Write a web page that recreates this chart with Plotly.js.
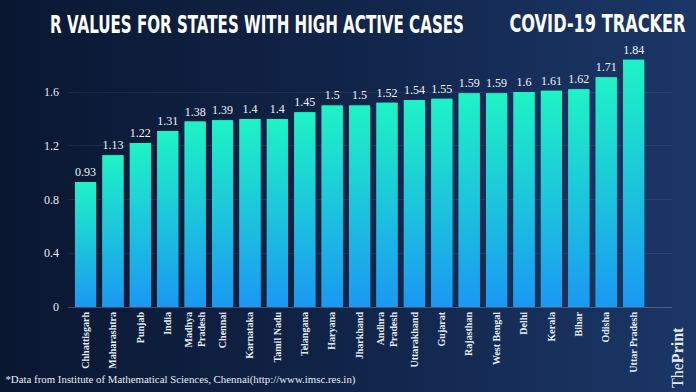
<!DOCTYPE html>
<html>
<head>
<meta charset="utf-8">
<script src="https://cdn.plot.ly/plotly-3.0.1.min.js"></script>
<style>
html,body{margin:0;padding:0;}
body{width:696px;height:392px;overflow:hidden;background:linear-gradient(to right,#0a1731 0%,#112449 50%,#1b3767 100%);}
#chart{width:696px;height:392px;}
</style>
</head>
<body>
<div id="chart"></div>
<script>
const states = ["Chhattisgarh","Maharashtra","Punjab","India","Madhya<br>Pradesh","Chennai","Karnataka","Tamil Nadu","Telangana","Haryana","Jharkhand","Andhra<br>Pradesh","Uttarakhand","Gujarat","Rajasthan","West Bengal","Delhi","Kerala","Bihar","Odisha","Uttar Pradesh"];
const rValues = [0.93,1.13,1.22,1.31,1.38,1.39,1.4,1.4,1.45,1.5,1.5,1.52,1.54,1.55,1.59,1.59,1.6,1.61,1.62,1.71,1.84];
const yTicks = [0,0.4,0.8,1.2,1.6];
const titleText = "R VALUES FOR STATES WITH HIGH ACTIVE CASES";
const trackerText = "COVID-19 TRACKER";
const noteText = "*Data from Institute of Mathematical Sciences, Chennai(http://www.imsc.res.in)";

const idx = states.map((s,i)=>i);
const barW = 0.77;
const serif = "Liberation Serif, DejaVu Serif, serif";
const cond = "Liberation Sans Narrow, DejaVu Sans Condensed, Roboto, sans-serif";

const traces = [{
  type:'bar', x: idx, y: rValues, width: barW,
  marker:{color:'#1cc3df', line:{width:0}},
  text: rValues.map(v=>String(v)), textposition:'outside',
  textfont:{family:serif, size:12, color:'#eef3f8'},
  cliponaxis:false, hoverinfo:'skip'
}];
rValues.forEach((v,i)=>{
  traces.push({
    type:'scatter', mode:'none', fill:'toself',
    x:[i-barW/2, i-barW/2, i+barW/2, i+barW/2],
    y:[0, v, v, 0],
    fillgradient:{type:'vertical', start:0, stop:v,
      colorscale:[[0,'#1a98f3'],[1,'#1ef3c5']]},
    hoverinfo:'skip', showlegend:false
  });
});

const L=68, R=24, T=45, B=85, W=696, H=392;
const pw = W-L-R, ph = H-T-B;
const layout = {
  width:W, height:H,
  margin:{l:L, r:R, t:T, b:B},
  paper_bgcolor:'rgba(0,0,0,0)', plot_bgcolor:'rgba(0,0,0,0)',
  showlegend:false,
  title:{text:titleText, xref:'container', yref:'container', x:50/W, xanchor:'left', y:1-24/H, yanchor:'middle',
    font:{family:cond, size:25, color:'#ffffff', weight:700}},
  xaxis:{range:[-0.64, 21.4], tickvals: idx, ticktext: states, tickangle:-90,
    tickfont:{family:serif, size:10, color:'#e6ecf3', weight:700},
    showgrid:false, zeroline:false, showline:true, linecolor:'rgba(255,255,255,0.22)', linewidth:1,
    ticks:'', fixedrange:true},
  yaxis:{range:[0,1.95], tickvals:yTicks, ticktext:yTicks.map(String),
    tickfont:{family:serif, size:12, color:'#e6ecf3'},
    showgrid:true, gridcolor:'rgba(255,255,255,0.07)', gridwidth:1,
    zeroline:false, ticks:'', ticklabelstandoff:8, fixedrange:true},
  annotations:[
    {text:trackerText, xref:'paper', yref:'paper', x:(597-L)/pw, y:(H-B-24)/ph, xanchor:'center', yanchor:'middle',
     showarrow:false, font:{family:cond, size:25, color:'#ffffff', weight:700}},
    {text:noteText, xref:'paper', yref:'paper', x:(180-L)/pw, y:(H-B-379)/ph, xanchor:'center', yanchor:'middle',
     showarrow:false, font:{family:serif, size:11, color:'#e6ecf3'}},
    {text:'The<b>Print</b>', xref:'paper', yref:'paper', x:(677-L)/pw, y:(H-B-358)/ph, xanchor:'center', yanchor:'middle',
     textangle:-90, showarrow:false, font:{family:serif, size:16, color:'#e6ecf3'}}
  ]
};

Plotly.newPlot('chart', traces, layout, {displayModeBar:false, staticPlot:true}).then(()=>{
  const fit = (el, len)=>{ if(el){ el.setAttribute('textLength', len); el.setAttribute('lengthAdjust','spacingAndGlyphs'); } };
  fit(document.querySelector('.gtitle'), 414);
  document.querySelectorAll('.annotation-text').forEach(el=>{
    if(el.textContent===trackerText) fit(el, 176);
    if(el.textContent===noteText) fit(el, 350);
  });
});
</script>
</body>
</html>
